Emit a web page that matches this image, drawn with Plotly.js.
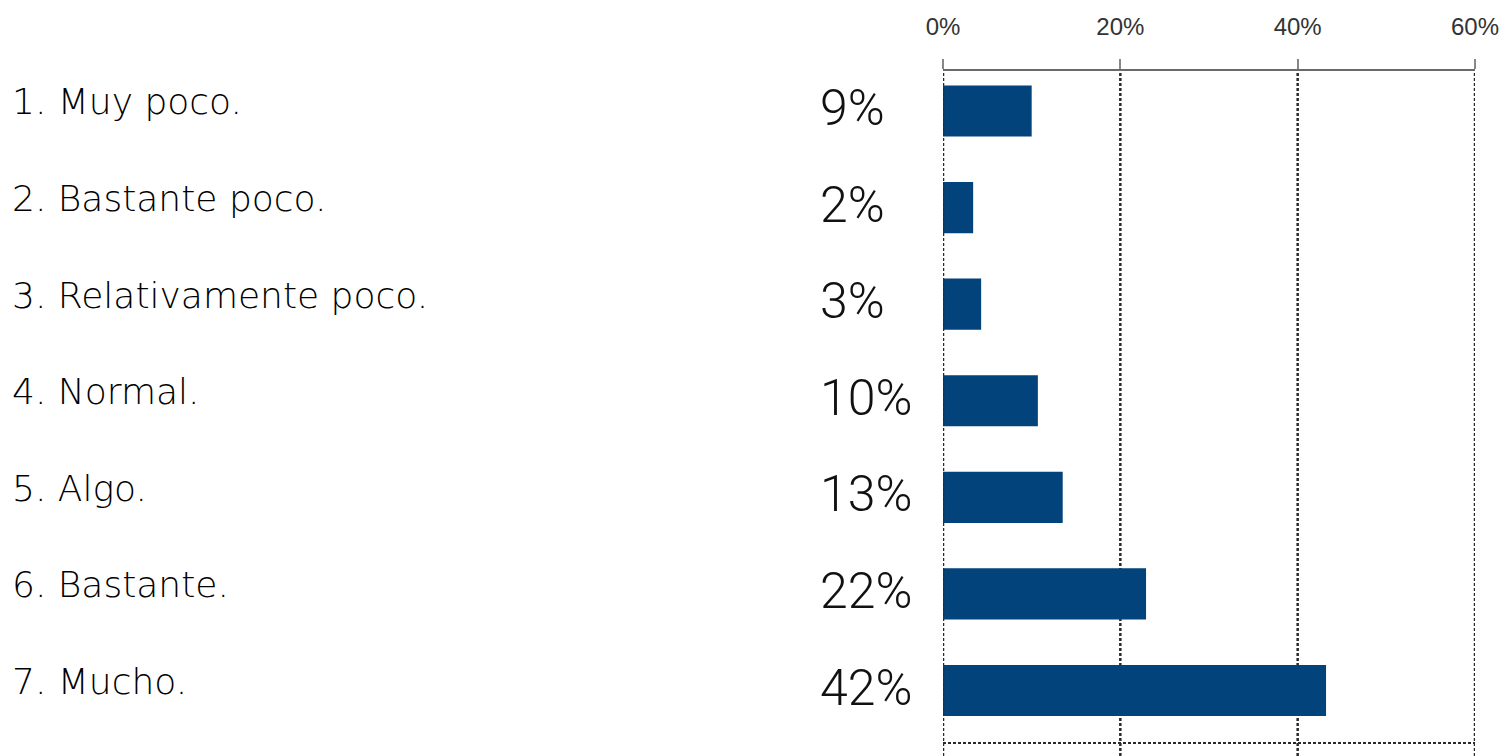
<!DOCTYPE html>
<html>
<head>
<meta charset="utf-8">
<script src="https://cdn.plot.ly/plotly-3.0.1.min.js"></script>
<style>html,body{margin:0;padding:0;background:#fff;}#chart{width:1506px;height:756px;}</style>
</head>
<body>
<div id="chart"></div>
<script>
// Data
var categories = ["1. Muy poco.", "2. Bastante poco.", "3. Relativamente poco.", "4. Normal.", "5. Algo.", "6. Bastante.", "7. Mucho."];
var barValues = [10.0, 3.4, 4.3, 10.7, 13.5, 22.9, 43.2];
var valueLabels = ["9%", "2%", "3%", "10%", "13%", "22%", "42%"];
var tickValues = [0, 20, 40, 60];
var tickLabels = ["0%", "20%", "40%", "60%"];

var W = 1506, H = 756;
var plotL = 943, plotR = 1475, plotT = 71, plotB = 756;
var plotW = plotR - plotL;

var yIdx = categories.map(function(_, i){ return i; });

var trace = {
  type: 'bar',
  orientation: 'h',
  x: barValues,
  y: yIdx,
  width: 0.53,
  marker: {color: '#02437b', line: {width: 0}},
  hoverinfo: 'skip'
};

var annotations = [];
categories.forEach(function(c, i){
  annotations.push({
    xref: 'paper', yref: 'y', x: (10 - plotL) / plotW, y: i,
    xanchor: 'left', yanchor: 'middle', yshift: 9,
    text: c, showarrow: false,
    font: {family: 'DejaVu Sans', size: 36, weight: 200, color: '#000'}
  });
});
valueLabels.forEach(function(t, i){
  annotations.push({
    xref: 'paper', yref: 'y', x: (818 - plotL) / plotW, y: i,
    xanchor: 'left', yanchor: 'middle', yshift: 3,
    text: t, showarrow: false,
    font: {family: 'Roboto', size: 50, weight: 300, color: '#111'}
  });
});

// vertical dashed grid lines at every tick (edge ones included)
var gridDash = '3px,2px';
var gridColor = '#2a2a2a';
var shapes = tickValues.map(function(v, i){
  return {
    type: 'line', xref: 'x', yref: 'paper', x0: v, x1: v, y0: 0, y1: 1,
    line: {color: gridColor, width: 2.5, dash: gridDash},
    layer: i === 0 ? 'above' : 'below'
  };
});

var layout = {
  width: W, height: H,
  margin: {l: plotL, r: W - plotR, t: plotT, b: H - plotB, pad: 0},
  paper_bgcolor: '#fff', plot_bgcolor: '#fff',
  showlegend: false,
  xaxis: {
    side: 'top', range: [0, 60], fixedrange: true,
    tickvals: tickValues, ticktext: tickLabels,
    tickfont: {family: 'Liberation Sans', size: 24, color: '#333'},
    ticks: 'outside', ticklen: 10, tickwidth: 2, tickcolor: '#888',
    ticklabelstandoff: 14,
    showline: true, linecolor: '#6a6a6a', linewidth: 2.5,
    showgrid: false, zeroline: false
  },
  yaxis: {
    range: [6.678, -0.414], fixedrange: true,
    tickvals: [6.544], showticklabels: false, ticks: '',
    showgrid: true, gridcolor: gridColor, gridwidth: 2.5, griddash: gridDash,
    zeroline: false, showline: false
  },
  shapes: shapes,
  annotations: annotations
};

Plotly.newPlot('chart', [trace], layout, {displayModeBar: false, staticPlot: true});
</script>
</body>
</html>
